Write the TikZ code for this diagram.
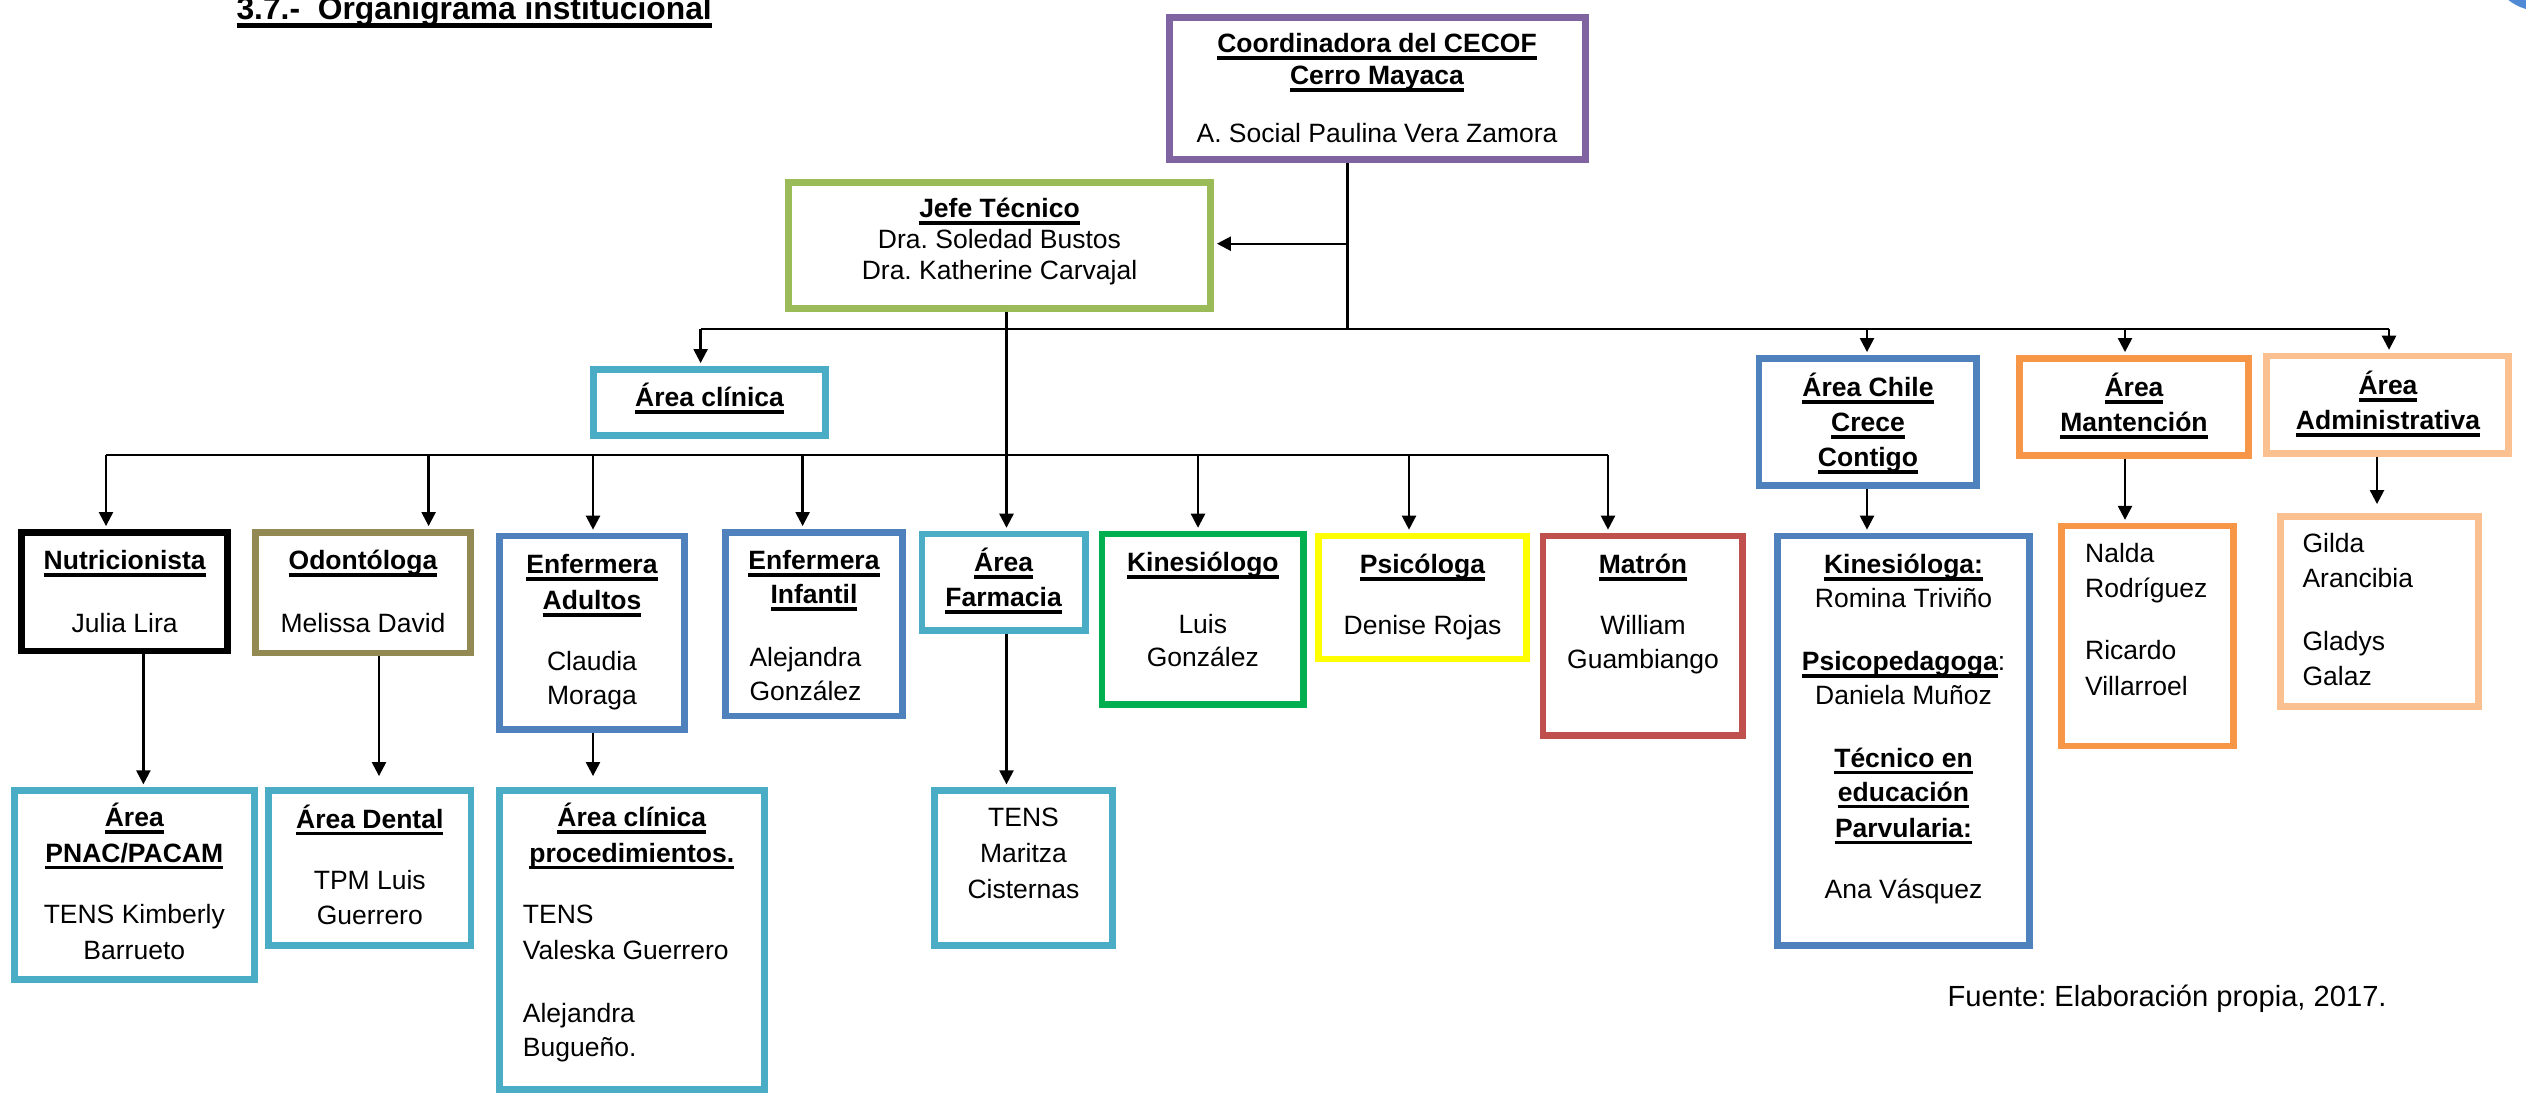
\documentclass[tikz,border=0pt]{standalone}
\usepackage{fontspec}
\setmainfont{Liberation Sans}
\usetikzlibrary{arrows.meta,calc}
\frenchspacing
\definecolor{cpurple}{HTML}{8064A2}
\definecolor{cgreenj}{HTML}{9BBB59}
\definecolor{caqua}{HTML}{4BACC6}
\definecolor{cblue}{HTML}{4F81BD}
\definecolor{corange}{HTML}{F79646}
\definecolor{clorange}{HTML}{FAC090}
\definecolor{colive}{HTML}{938953}
\definecolor{cgreenk}{HTML}{00B050}
\definecolor{cyellow}{HTML}{FFFF00}
\definecolor{cred}{HTML}{C0504D}
\definecolor{carc}{RGB}{80,137,212}
\newcommand\ulx[1]{\setbox0\hbox{#1}\rlap{\rule[-0.25em]{\wd0}{0.13em}}\box0}
\newcommand\bu[1]{\ulx{\bfseries #1}}
\newcounter{tn}
\newcommand\tc[3]{\stepcounter{tn}\node[txt,anchor=base] (t\arabic{tn}) at (#1,#2) {#3};}
\newcommand\tw[3]{\stepcounter{tn}\node[txt,anchor=base west] (t\arabic{tn}) at (#1,#2) {#3};}
\newcommand\bx[6]{\node[orgbox,draw=#2,minimum width={(#5-#3-6.7)*0.3774pt},minimum height={(#6-#4-6.7)*0.3774pt}] (#1) at ({(#3+#5)/2},{(#4+#6)/2}) {};}
\begin{document}
\frenchspacing
\begin{tikzpicture}[x=0.3774pt,y=-0.3774pt,
  orgbox/.style={rectangle,line width=2.53pt,inner sep=0pt},
  txt/.style={inner sep=0pt,font=\fontsize{10}{12}\selectfont},
  conn/.style={line width=0.87pt,black},
  arr/.style={conn,-{Triangle[length=5.3pt,width=5.3pt]},shorten >=1.1pt}]
\useasboundingbox (0,0) rectangle (2526,1095);
\begin{scope}
\clip (0,0) rectangle (2526,1095);
\fill[carc] (2540,-40) circle (51);
\end{scope}
% title
\node[anchor=base west,inner sep=0pt,font=\fontsize{12}{14}\selectfont\bfseries] (title) at (236,19.6) {\ulx{3.7.-\ \ Organigrama institucional}};
% boxes
\bx{coord}{cpurple}{1166}{14}{1589}{163}
\bx{jefe}{cgreenj}{785}{179}{1214}{312}
\bx{clin}{caqua}{590}{366}{829}{439}
\bx{chile}{cblue}{1755.5}{355}{1980}{488.7}
\bx{mant}{corange}{2016}{355}{2252}{458.7}
\bx{admin}{clorange}{2263}{352.7}{2512}{456.7}
\bx{nut}{black}{18}{529}{231}{654.5}
\bx{odo}{colive}{252}{529}{474}{656.4}
\bx{enfa}{cblue}{496}{532.6}{688}{733}
\bx{enfi}{cblue}{722}{529}{906}{719.4}
\bx{farm}{caqua}{918.6}{530.7}{1088.6}{633.6}
\bx{kine}{cgreenk}{1098.5}{530.7}{1307}{707.6}
\bx{psi}{cyellow}{1315}{532.6}{1530}{662.4}
\bx{matr}{cred}{1539.6}{532.6}{1746}{739}
\bx{chilec}{cblue}{1774}{532.6}{2033}{949}
\bx{mantc}{corange}{2058}{522.8}{2236.5}{749.3}
\bx{adminc}{clorange}{2277}{513.3}{2482}{709.5}
\bx{pnac}{caqua}{10.8}{787.3}{258}{983}
\bx{dent}{caqua}{265.3}{787.3}{474.3}{948.6}
\bx{proc}{caqua}{496}{787.3}{768}{1093}
\bx{tens}{caqua}{931}{787.3}{1116}{948.6}
% texts
\tc{1377}{53}{\bu{Coordinadora del CECOF}}
\tc{1377}{85}{\bu{Cerro Mayaca}}
\tc{1377}{143}{A. Social Paulina Vera Zamora}
\tc{999.5}{218}{\bu{Jefe Técnico}}
\tc{999.5}{249}{Dra. Soledad Bustos}
\tc{999.5}{280}{Dra. Katherine Carvajal}
\tc{709.5}{407}{\bu{Área clínica}}
\tc{1868}{397}{\bu{Área Chile}}
\tc{1868}{432}{\bu{Crece}}
\tc{1868}{467}{\bu{Contigo}}
\tc{2134}{397}{\bu{Área}}
\tc{2134}{432}{\bu{Mantención}}
\tc{2388}{395}{\bu{Área}}
\tc{2388}{430}{\bu{Administrativa}}
\tc{124.7}{570}{\bu{Nutricionista}}
\tc{124.7}{633}{Julia Lira}
\tc{363}{570}{\bu{Odontóloga}}
\tc{363}{633}{Melissa David}
\tc{592}{574}{\bu{Enfermera}}
\tc{592}{610}{\bu{Adultos}}
\tc{592}{671}{Claudia}
\tc{592}{705}{Moraga}
\tc{814}{570}{\bu{Enfermera}}
\tc{814}{604}{\bu{Infantil}}
\tw{749}{667}{Alejandra}
\tw{749}{701}{González}
\tc{1003.6}{572}{\bu{Área}}
\tc{1003.6}{607}{\bu{Farmacia}}
\tc{1202.8}{572}{\bu{Kinesiólogo}}
\tc{1202.8}{634}{Luis}
\tc{1202.8}{667}{González}
\tc{1422.5}{574}{\bu{Psicóloga}}
\tc{1422.5}{635}{Denise Rojas}
\tc{1643}{574}{\bu{Matrón}}
\tc{1643}{635}{William}
\tc{1643}{669}{Guambiango}
\tc{1903.5}{574}{\bu{Kinesióloga:}}
\tc{1903.5}{608}{Romina Triviño}
\tc{1903.5}{671}{\bu{Psicopedagoga}:}
\tc{1903.5}{705}{Daniela Muñoz}
\tc{1903.5}{767.6}{\bu{Técnico en}}
\tc{1903.5}{801.7}{\bu{educación}}
\tc{1903.5}{837.8}{\bu{Parvularia:}}
\tc{1903.5}{898.5}{Ana Vásquez}
\tw{2084.6}{562.6}{Nalda}
\tw{2084.6}{598}{Rodríguez}
\tw{2084.6}{660}{Ricardo}
\tw{2084.6}{695.4}{Villarroel}
\tw{2302}{553}{Gilda}
\tw{2302}{588}{Arancibia}
\tw{2302}{651}{Gladys}
\tw{2302}{686}{Galaz}
\tc{134.3}{827}{\bu{Área}}
\tc{134.3}{862.4}{\bu{PNAC/PACAM}}
\tc{134.3}{923}{TENS Kimberly}
\tc{134.3}{959}{Barrueto}
\tc{369.8}{828.6}{\bu{Área Dental}}
\tc{369.8}{889}{TPM Luis}
\tc{369.8}{924.3}{Guerrero}
\tc{631.8}{827}{\bu{Área clínica}}
\tc{631.8}{862.4}{\bu{procedimientos.}}
\tw{522.4}{923}{TENS}
\tw{522.4}{959}{Valeska Guerrero}
\tw{522.4}{1022}{Alejandra}
\tw{522.4}{1056}{Bugueño.}
\tc{1023.5}{827}{TENS}
\tc{1023.5}{862.4}{Maritza}
\tc{1023.5}{898.5}{Cisternas}
\node[anchor=base west,inner sep=0pt,font=\fontsize{11}{13}\selectfont] (fuente) at (1947,1006.6) {Fuente: Elaboración propia, 2017.};
% connector coordinates
\coordinate (tbL) at (700.6,329);
\coordinate (tbR) at (2389,329);
\coordinate (cj) at (1347.5,329);
\coordinate (jarr) at (1347.5,243.7);
\coordinate (tch) at (1867,329);
\coordinate (tmt) at (2125,329);
\coordinate (jv) at (1006.5,455);
\coordinate (cbL) at (106,455);
\coordinate (cbR) at (1608,455);
\coordinate (c2) at (428.6,455);
\coordinate (c3) at (593,455);
\coordinate (c4) at (802.6,455);
\coordinate (c6) at (1198,455);
\coordinate (c7) at (1409,455);
\coordinate (l1) at (143.4,700);
\coordinate (l2e) at (379,779);
\coordinate (l3e) at (593,779);
\coordinate (l7e) at (2377,507);
% connectors
\draw[conn] (coord.south -| cj) -- (cj);
\draw[arr] (jarr) -- (jarr -| jefe.east);
\draw[conn] (tbL) -- (tbR);
\draw[arr] (tbL) -- (tbL |- clin.north);
\draw[arr] (tch) -- (tch |- chile.north);
\draw[arr] (tmt) -- (tmt |- mant.north);
\draw[arr] (tbR) -- (tbR |- admin.north);
\draw[arr] (jv |- jefe.south) -- (jv |- farm.north);
\draw[conn] (cbL) -- (cbR);
\draw[arr] (cbL) -- (cbL |- nut.north);
\draw[arr] (c2) -- (c2 |- odo.north);
\draw[arr] (c3) -- (c3 |- enfa.north);
\draw[arr] (c4) -- (c4 |- enfi.north);
\draw[arr] (c6) -- (c6 |- kine.north);
\draw[arr] (c7) -- (c7 |- psi.north);
\draw[arr] (cbR) -- (cbR |- matr.north);
\draw[arr] (l1 |- nut.south) -- (l1 |- pnac.north);
\draw[arr] (l2e |- odo.south) -- (l2e);
\draw[arr] (l3e |- enfa.south) -- (l3e);
\draw[arr] (jv |- farm.south) -- (jv |- tens.north);
\draw[arr] (tch |- chile.south) -- (tch |- chilec.north);
\draw[arr] (tmt |- mant.south) -- (tmt |- mantc.north);
\draw[arr] (l7e |- admin.south) -- (l7e);
\end{tikzpicture}
\end{document}
